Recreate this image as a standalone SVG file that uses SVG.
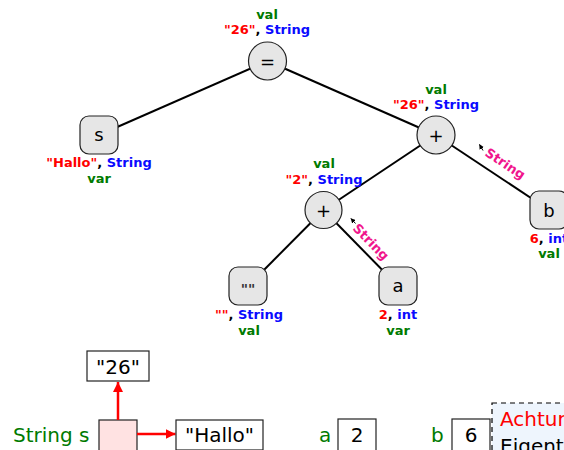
<svg xmlns="http://www.w3.org/2000/svg" width="564" height="450" viewBox="0 0 564 450">
<style>
.edge{stroke:#000;stroke-width:2;fill:none}
.nd{fill:#e6e6e6;stroke:#222;stroke-width:1.2}
.nt{font-family:"DejaVu Sans",sans-serif;font-size:18px;fill:#000;text-anchor:middle}
.lb{font-family:"DejaVu Sans",sans-serif;font-size:13px;font-weight:bold;text-anchor:middle}
.g{fill:#007a00}.r{fill:#ff0000}.b{fill:#0a0aff}
.el{font-family:"DejaVu Sans",sans-serif;font-size:13px;font-weight:bold;fill:#f0148c}
.tip{stroke:#000;stroke-width:1;fill:none}
.big{font-family:"DejaVu Sans",sans-serif;font-size:20px}
.box{fill:#fff;stroke:#222;stroke-width:1.2}
.ra{stroke:#ff0000;stroke-width:2.5;fill:none}
</style>
<defs>
<marker id="sa" viewBox="0 0 10 10" refX="9" refY="5" markerWidth="5" markerHeight="5" orient="auto" markerUnits="userSpaceOnUse"><path d="M0,0 L10,5 L0,10 z" fill="#000"/></marker>
<marker id="rh" viewBox="0 0 10 10" refX="10" refY="5" markerWidth="10" markerHeight="10" orient="auto" markerUnits="userSpaceOnUse"><path d="M0,0 L10,5 L0,10 z" fill="#ff0000"/></marker>
</defs>
<g id="connectors">
<line class="edge" x1="267.5" y1="61" x2="99" y2="135"/>
<line class="edge" x1="267.5" y1="61" x2="436" y2="135"/>
<line class="edge" x1="436" y1="135" x2="323.5" y2="210"/>
<line class="edge" x1="436" y1="135" x2="549" y2="210"/>
<line class="edge" x1="323.5" y1="210" x2="248" y2="286"/>
<line class="edge" x1="323.5" y1="210" x2="398" y2="286"/>
<line class="tip" x1="483" y1="150.5" x2="479.5" y2="144.5" marker-end="url(#sa)"/>
<text class="el" transform="translate(484,155) rotate(33.6)">String</text>
<line class="tip" x1="355.5" y1="223.5" x2="351" y2="218.5" marker-end="url(#sa)"/>
<text class="el" transform="translate(352,229) rotate(45.6)">String</text>
</g>
<g id="n-assign">
<circle class="nd" cx="267.5" cy="61" r="19"/>
<text class="nt" x="267.5" y="67.5">=</text>
<text class="lb g" x="267" y="19">val</text>
<text class="lb" x="267" y="34"><tspan class="r">"26"</tspan>, <tspan class="b">String</tspan></text>
</g>
<g id="n-s">
<rect class="nd" x="80" y="116" width="38" height="38" rx="9"/>
<text class="nt" x="99" y="141">s</text>
<text class="lb" x="99" y="167"><tspan class="r">"Hallo"</tspan>, <tspan class="b">String</tspan></text>
<text class="lb g" x="99" y="183">var</text>
</g>
<g id="n-plus1">
<circle class="nd" cx="436" cy="135" r="19"/>
<text class="nt" x="436" y="141.5">+</text>
<text class="lb g" x="436" y="94">val</text>
<text class="lb" x="436" y="109"><tspan class="r">"26"</tspan>, <tspan class="b">String</tspan></text>
</g>
<g id="n-b">
<rect class="nd" x="530" y="191" width="38" height="38" rx="9"/>
<text class="nt" x="549" y="216.5">b</text>
<text class="lb" x="549" y="243"><tspan class="r">6</tspan>, <tspan class="b">int</tspan></text>
<text class="lb g" x="549" y="258">val</text>
</g>
<g id="n-plus2">
<circle class="nd" cx="323.5" cy="210" r="18.5"/>
<text class="nt" x="323.5" y="216.5">+</text>
<text class="lb g" x="324" y="168">val</text>
<text class="lb" x="324" y="184"><tspan class="r">"2"</tspan>, <tspan class="b">String</tspan></text>
</g>
<g id="n-empty">
<rect class="nd" x="229" y="267" width="38" height="38" rx="9"/>
<text class="nt" x="248" y="294" style="font-size:14px;font-weight:bold;fill:#333">""</text>
<text class="lb" x="249" y="319"><tspan class="r">""</tspan>, <tspan class="b">String</tspan></text>
<text class="lb g" x="249" y="335">val</text>
</g>
<g id="n-a">
<rect class="nd" x="379" y="267" width="38" height="38" rx="9"/>
<text class="nt" x="398" y="292">a</text>
<text class="lb" x="398" y="319"><tspan class="r">2</tspan>, <tspan class="b">int</tspan></text>
<text class="lb g" x="398" y="335">var</text>
</g>
<g id="memory">
<rect class="box" x="87" y="351" width="62" height="30"/>
<text class="big" x="118" y="373.5" text-anchor="middle">"26"</text>
<text class="big" x="13" y="442" fill="#007a00">String s</text>
<rect x="99" y="420" width="38" height="38" fill="#ffe2e2" stroke="#222" stroke-width="1.2"/>
<line class="ra" x1="118" y1="420" x2="118" y2="382" marker-end="url(#rh)"/>
<line class="ra" x1="137" y1="434" x2="175.5" y2="434" marker-end="url(#rh)"/>
<rect class="box" x="176" y="420" width="87" height="30"/>
<text class="big" x="219.5" y="442" text-anchor="middle">"Hallo"</text>
<text class="big" x="319" y="442" fill="#007a00">a</text>
<rect class="box" x="338" y="419" width="38" height="34"/>
<text class="big" x="357" y="442" text-anchor="middle">2</text>
<text class="big" x="431" y="442" fill="#007a00">b</text>
<rect class="box" x="452" y="419" width="38" height="34"/>
<text class="big" x="471" y="442" text-anchor="middle">6</text>
</g>
<g id="note">
<rect x="492" y="403" width="120" height="70" fill="#eef5fd" stroke="#000" stroke-width="1.2" stroke-dasharray="5,4"/>
<text class="big" x="500" y="426" fill="#ff0000">Achtung</text>
<text class="big" x="500" y="453" fill="#000">Eigentlich</text>
</g>
</svg>
